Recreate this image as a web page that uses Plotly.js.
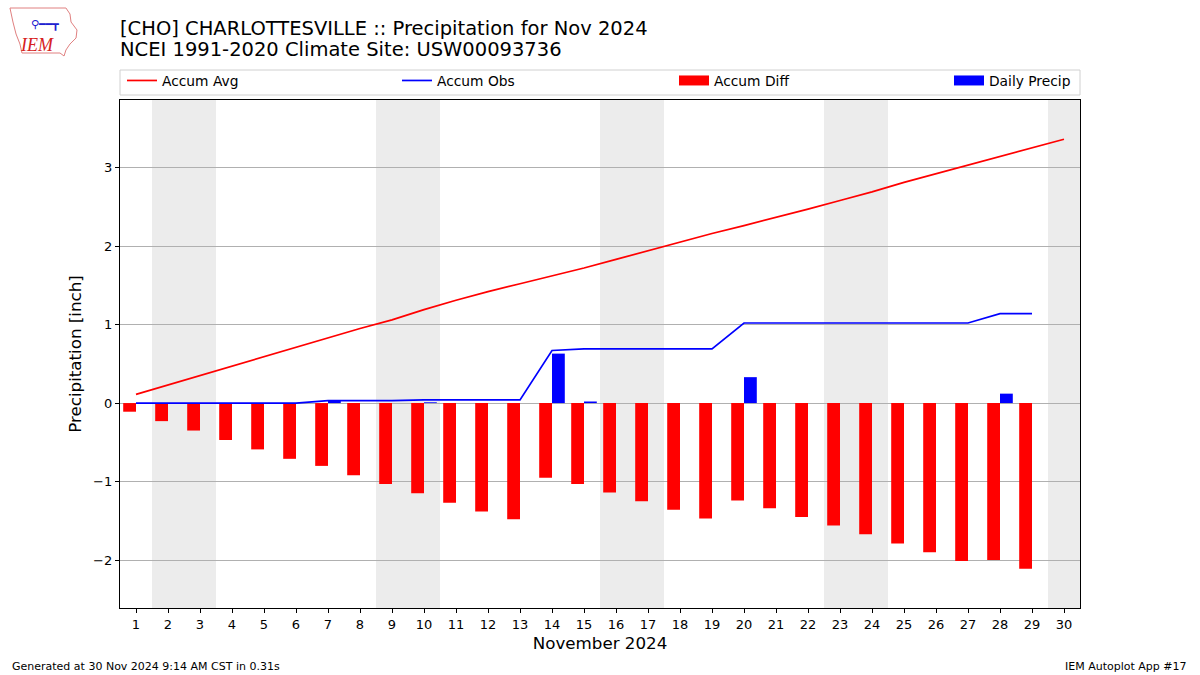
<!DOCTYPE html>
<html>
<head>
<meta charset="utf-8">
<script src="https://cdn.plot.ly/plotly-3.0.1.min.js"></script>
<style>html,body{margin:0;padding:0;background:#fff;}#chart{width:1200px;height:675px;}</style>
</head>
<body>
<div id="chart"></div>
<script>
const days = [1,2,3,4,5,6,7,8,9,10,11,12,13,14,15,16,17,18,19,20,21,22,23,24,25,26,27,28,29,30];
const accumAvg = [0.11,0.23,0.35,0.47,0.59,0.71,0.83,0.95,1.06,1.19,1.31,1.42,1.52,1.62,1.72,1.83,1.94,2.05,2.16,2.26,2.36,2.47,2.58,2.69,2.81,2.92,3.03,3.14,3.25,3.36];
const obsDays = [1,2,3,4,5,6,7,8,9,10,11,12,13,14,15,16,17,18,19,20,21,22,23,24,25,26,27,28,29];
const accumObs = [0,0,0,0,0,0,0.03,0.03,0.03,0.04,0.04,0.04,0.04,0.67,0.69,0.69,0.69,0.69,0.69,1.02,1.02,1.02,1.02,1.02,1.02,1.02,1.02,1.14,1.14];
const accumDiff = [-0.11,-0.23,-0.35,-0.47,-0.59,-0.71,-0.80,-0.92,-1.03,-1.15,-1.27,-1.38,-1.48,-0.95,-1.03,-1.14,-1.25,-1.36,-1.47,-1.24,-1.34,-1.45,-1.56,-1.67,-1.79,-1.90,-2.01,-2.00,-2.11];
const dailyPrecip = [0,0,0,0,0,0,0.03,0,0,0.01,0,0,0,0.63,0.02,0,0,0,0,0.33,0,0,0,0,0,0,0,0.12,0];
const weekendStarts = [2,9,16,23,30];
const weekendEnds = [3,10,17,24,30];
const titleLines = ["[CHO] CHARLOTTESVILLE :: Precipitation for Nov 2024","NCEI 1991-2020 Climate Site: USW00093736"];

const font = "DejaVu Sans, Liberation Sans, sans-serif";

const traces = [
  {type:'scatter', mode:'lines', name:'Accum Avg', x:days, y:accumAvg, line:{color:'#ff0000', width:1.7}, legend:'legend'},
  {type:'scatter', mode:'lines', name:'Accum Obs', x:obsDays, y:accumObs, line:{color:'#0000ff', width:1.7}, legend:'legend2'},
  {type:'bar', name:'Accum Diff', x:obsDays, y:accumDiff, width:0.4, offset:-0.4, marker:{color:'#ff0000', line:{width:0}}, showlegend:false},
  {type:'bar', name:'Daily Precip', x:obsDays, y:dailyPrecip, width:0.4, offset:0, marker:{color:'#0000ff', line:{width:0}}, showlegend:false},
  {type:'scatter', mode:'lines', name:'Accum Diff', x:[null], y:[null], line:{color:'#ff0000', width:10}, legend:'legend3', hoverinfo:'skip'},
  {type:'scatter', mode:'lines', name:'Daily Precip', x:[null], y:[null], line:{color:'#0000ff', width:10}, legend:'legend4', hoverinfo:'skip'}
];

const shapes = weekendStarts.map((s,i)=>({
  type:'rect', xref:'x', yref:'paper', x0:s-0.5, x1:weekendEnds[i]+0.5, y0:0, y1:1,
  fillcolor:'#ececec', line:{width:0}, layer:'below'
}));
shapes.push({type:'rect', xref:'paper', yref:'paper', x0:0, x1:1, y0:(608-95)/508, y1:(608-70)/508,
  line:{color:'#d0d0d0', width:1}, fillcolor:'rgba(255,255,255,0.8)', layer:'above'});
shapes.push({type:'path', xref:'paper', yref:'paper',
  path: (function(){
    const pts=[[10,8],[66,8],[70,14],[71,22],[77,30],[76,38],[70,44],[66,50],[64,56],[60,53],[22,53],[20,44],[16,34],[13,22]];
    return 'M '+pts.map(p=>((p[0]-120)/960).toFixed(4)+','+((608-p[1])/508).toFixed(4)).join(' L ')+' Z';
  })(),
  line:{color:'#e08080', width:1}, fillcolor:'rgba(0,0,0,0)', layer:'above'});

function leg(px){
  return {orientation:'h', x:(px-4-120)/960, xanchor:'left', y:(608-80.5)/508, yanchor:'middle',
    bgcolor:'rgba(0,0,0,0)', borderwidth:0, font:{family:font, size:13.8}};
}

const layout = {
  width:1200, height:675,
  margin:{l:120, r:120, t:100, b:67},
  paper_bgcolor:'#ffffff', plot_bgcolor:'#ffffff',
  font:{family:font, size:13, color:'#000'},
  title:{text:titleLines[0], x:0.1, xref:'container', xanchor:'left', y:1-28/675, yref:'container', yanchor:'middle',
    font:{family:font, size:19.5, color:'#000'}},
  barmode:'overlay',
  showlegend:true,
  legend:leg(126), legend2:leg(401), legend3:leg(678), legend4:leg(953),
  xaxis:{range:[0.5,30.5], tickmode:'array', tickvals:days, ticktext:days.map(String), ticks:'outside', ticklen:4, tickcolor:'#000',
    showgrid:false, zeroline:false, showline:true, linecolor:'#000', linewidth:1.2, mirror:true,
    tickfont:{family:font, size:13}, title:{text:'November 2024', font:{family:font, size:16.7}, standoff:6}},
  yaxis:{range:[-2.61,3.86], tickmode:'array', tickvals:[-2,-1,0,1,2,3], ticks:'outside', ticklen:4, tickcolor:'#000',
    showgrid:true, gridcolor:'#b0b0b0', gridwidth:1, zeroline:false, showline:true, linecolor:'#000', linewidth:1.2, mirror:true,
    tickfont:{family:font, size:13}, title:{text:'Precipitation [inch]', font:{family:font, size:16.7}, standoff:7}},
  shapes:shapes,
  annotations:[
    {text:titleLines[1], xref:'paper', yref:'paper', x:(118-120)/960, y:(608-50)/508, xanchor:'left', yanchor:'middle',
      showarrow:false, font:{family:font, size:19.5, color:'#000'}},
    {text:'Generated at 30 Nov 2024 9:14 AM CST in 0.31s', xref:'paper', yref:'paper', x:(10-120)/960, y:(608-666)/508,
      xanchor:'left', yanchor:'middle', showarrow:false, font:{family:font, size:11}},
    {text:'IEM Autoplot App #17', xref:'paper', yref:'paper', x:(1189-120)/960, y:(608-666)/508,
      xanchor:'right', yanchor:'middle', showarrow:false, font:{family:font, size:11}},
    {text:'<i>IEM</i>', xref:'paper', yref:'paper', x:(37-120)/960, y:(608-45)/508, xanchor:'center', yanchor:'middle',
      showarrow:false, font:{family:'Liberation Serif, serif', size:18, color:'#d62020'}},
    {text:'⚲━━┳', xref:'paper', yref:'paper', x:(45-120)/960, y:(608-24)/508, xanchor:'center', yanchor:'middle',
      showarrow:false, font:{family:font, size:11, color:'#2020d0'}}
  ]
};

Plotly.newPlot('chart', traces, layout, {displayModeBar:false, staticPlot:true});
</script>
</body>
</html>
